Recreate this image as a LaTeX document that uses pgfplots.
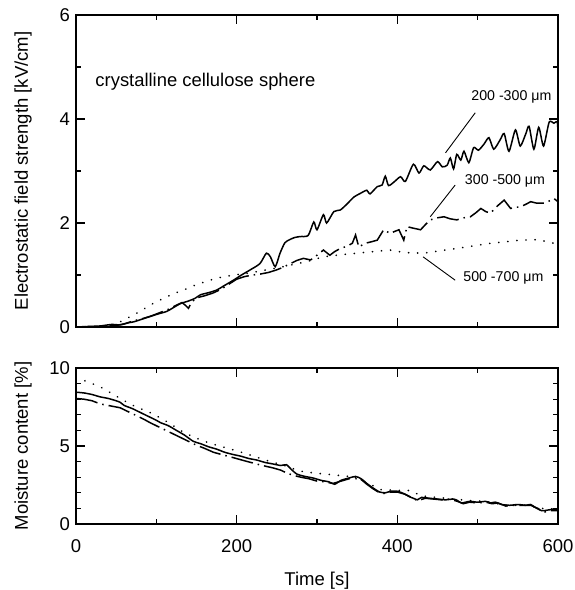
\documentclass[border=0pt]{standalone}
\usepackage{fontspec}
\setmainfont{Liberation Sans}
\usepackage{pgfplots}
\pgfplotsset{compat=1.18}
\pgfplotsset{
 common/.style={
  scale only axis, width=482pt, xmin=0, xmax=600,
  axis line style={line width=1.3pt},
  every tick/.style={line width=1.1pt, black},
  major tick length=9pt, minor tick length=5pt,
  tick align=inside,
  xtick={0,200,400,600}, minor xtick={100,300,500},
  tick label style={font=\fontsize{18.5}{22}\selectfont},
  /pgf/number format/assume math mode=true,
  every axis y label/.style={at={(axis description cs:-0.0913,0.5)}, rotate=90, anchor=south, inner sep=0pt, font=\fontsize{18.5}{22}\selectfont},
  every axis x label/.style={at={(axis description cs:0.5,0)}, anchor=base, yshift=-61pt, inner sep=0pt, font=\fontsize{18.5}{22}\selectfont},
  yticklabel style={xshift=-2.5pt},
 },
 sol/.style={black, line width=1.5pt, smooth, tension=0.4},
 dd/.style={black, line width=1.5pt, dash pattern=on 22pt off 5pt on 1.5pt off 5pt},
 dt/.style={black, line width=1.8pt, line cap=round, dash pattern=on 0.1pt off 9pt},
}
\begin{document}
\begin{tikzpicture}
\path[use as bounding box] (-76pt,-263pt) rectangle (499pt,327pt);
\begin{axis}[common, at={(0pt,0pt)}, anchor=south west, height=312pt,
  ymin=0, ymax=6, ytick={0,2,4,6}, minor ytick={1,3,5},
  xticklabels={},
  ylabel={Electrostatic field strength [kV/cm]}]
\addplot[sol] coordinates {(0,0) (15,0.01) (30,0.02) (45,0.05) (55,0.04) (65,0.08) (72,0.10) (82,0.15) (92,0.2) (102,0.25) (113,0.30) (122,0.38) (130,0.45) (140,0.5) (148,0.55) (155,0.62) (165,0.66) (175,0.71) (185,0.8) (196,0.9) (206,1.0) (217,1.1) (229,1.22) (237,1.42) (242,1.35) (248,1.16) (254,1.42) (260,1.62) (266,1.68) (272,1.72) (279,1.74) (289,1.76) (296,2.02) (300,1.87) (308,2.16) (312,2.0) (321,2.22) (329,2.25) (337,2.36) (346,2.5) (354,2.57) (362,2.63) (366,2.56) (375,2.7) (381,2.73) (385,2.9) (389,2.72) (396,2.79) (404,2.89) (410,2.8) (420,3.13) (427,2.96) (433,3.1) (441,3.02) (450,3.18) (456,3.08) (462,3.11) (466,3.25) (470,3.04) (474,3.32) (479,3.21) (483,3.38) (489,3.16) (495,3.45) (501,3.40) (508,3.52) (514,3.64) (520,3.42) (528,3.60) (533,3.72) (539,3.38) (547,3.79) (553,3.48) (560,3.72) (564,3.86) (570,3.42) (576,3.84) (582,3.48) (589,3.94) (595,3.92) (599,3.95) (600,3.75)};
\addplot[dd] coordinates {(0,0) (30,0.01) (50,0.03) (60,0.06) (72,0.12) (85,0.17) (95,0.22) (105,0.28) (115,0.34) (125,0.42) (132,0.47) (136,0.42) (140,0.36) (144,0.48) (150,0.56) (160,0.6) (170,0.65) (180,0.72) (190,0.82) (200,0.92) (210,0.97) (220,1.0) (230,1.02) (240,1.05) (250,1.1) (258,1.15) (267,1.22) (275,1.28) (283,1.32) (292,1.29) (300,1.38) (308,1.48) (316,1.38) (322,1.45) (329,1.51) (337,1.55) (344,1.61) (348,1.77) (352,1.54) (360,1.61) (368,1.64) (375,1.67) (383,1.87) (391,1.8) (397,1.84) (402,1.87) (408,1.67) (412,1.93) (420,1.9) (429,1.87) (435,1.97) (441,2.06) (450,2.1) (458,2.12) (466,2.08) (474,2.06) (483,2.1) (491,2.12) (498,2.2) (504,2.28) (510,2.22) (516,2.19) (524,2.32) (533,2.44) (541,2.28) (547,2.3) (553,2.31) (560,2.36) (566,2.41) (574,2.38) (583,2.38) (590,2.43) (595,2.47) (600,2.41)};
\addplot[dt] coordinates {(0,0) (30,0.01) (45,0.04) (55,0.10) (63,0.16) (71,0.23) (80,0.30) (92,0.42) (102,0.5) (113,0.58) (123,0.65) (134,0.71) (144,0.78) (155,0.84) (165,0.89) (175,0.94) (186,0.97) (196,1.0) (207,1.02) (217,1.04) (230,1.08) (245,1.12) (258,1.16) (267,1.19) (288,1.26) (308,1.35) (330,1.39) (350,1.42) (370,1.45) (391,1.48) (410,1.43) (433,1.42) (455,1.47) (474,1.51) (495,1.56) (516,1.61) (535,1.64) (553,1.67) (575,1.68) (595,1.61) (600,1.6)};
\node[anchor=base west, inner sep=0pt, font=\fontsize{18.4}{22}\selectfont] at (axis cs:24,4.62) {crystalline cellulose sphere};
\node[font=\fontsize{14.2}{17}\selectfont] at (axis cs:542,4.42) {200 -300 μm};
\draw[line width=0.9pt] (axis cs:497,4.12) -- (axis cs:460,3.35);
\node[font=\fontsize{14.2}{17}\selectfont] at (axis cs:534,2.80) {300 -500 μm};
\draw[line width=0.9pt] (axis cs:472,2.73) -- (axis cs:441,2.12);
\node[font=\fontsize{14.2}{17}\selectfont] at (axis cs:532,0.94) {500 -700 μm};
\draw[line width=0.9pt] (axis cs:472,0.90) -- (axis cs:432,1.35);
\end{axis}
\begin{axis}[common, at={(0pt,-41pt)}, anchor=north west, height=156pt,
  ymin=0, ymax=10, ytick={0,5,10}, minor ytick={1,2,3,4,6,7,8,9},
  xticklabel style={anchor=base, yshift=-28pt},
  xlabel={Time [s]}, ylabel={Moisture content [\%]}]
\addplot[sol] coordinates {(0,8.45) (10,8.4) (20,8.3) (30,8.15) (40,8.05) (50,7.9) (55,7.8) (60,7.6) (70,7.4) (80,7.15) (90,6.9) (100,6.65) (105,6.5) (115,6.3) (125,6.0) (135,5.7) (146,5.3) (155,5.15) (165,4.95) (175,4.8) (185,4.6) (196,4.45) (205,4.35) (215,4.2) (225,4.1) (235,3.95) (245,3.85) (255,3.75) (262,3.8) (268,3.5) (275,3.2) (285,3.05) (295,2.95) (305,2.8) (315,2.7) (322,2.55) (330,2.8) (340,2.95) (348,3.05) (355,2.9) (362,2.6) (370,2.3) (378,2.05) (385,2.0) (392,2.1) (400,2.1) (408,1.95) (415,1.75) (420,1.65) (425,1.55) (430,1.7) (440,1.65) (450,1.6) (460,1.55) (470,1.6) (475,1.5) (480,1.35) (490,1.45) (500,1.4) (510,1.45) (516,1.35) (522,1.4) (530,1.25) (540,1.2) (550,1.25) (560,1.2) (566,1.25) (572,1.05) (580,0.85) (588,0.9) (595,0.95) (600,0.9)};
\addplot[dd] coordinates {(0,8.05) (10,8.0) (20,7.9) (30,7.7) (45,7.55) (55,7.45) (65,7.2) (75,6.95) (85,6.7) (92,6.5) (100,6.3) (110,6.05) (120,5.8) (130,5.55) (140,5.3) (150,5.05) (160,4.85) (171,4.6) (185,4.4) (196,4.25) (210,4.05) (221,3.9) (232,3.75) (245,3.6) (255,3.45) (263,3.25) (272,3.1) (280,3.0) (290,2.9) (300,2.75) (310,2.7) (320,2.6) (330,2.75) (340,2.9) (348,3.0) (355,2.85) (362,2.55) (370,2.25) (378,2.0) (385,1.95) (392,2.05) (400,2.05) (410,1.9) (418,1.7) (425,1.5) (435,1.65) (445,1.6) (455,1.55) (465,1.6) (475,1.45) (482,1.3) (490,1.4) (500,1.35) (510,1.4) (518,1.3) (525,1.35) (535,1.15) (545,1.2) (555,1.2) (566,1.2) (575,1.0) (582,0.75) (590,0.85) (600,0.85)};
\addplot[dt] coordinates {(0,9.3) (10,9.2) (20,9.0) (30,8.8) (40,8.5) (50,8.2) (60,7.9) (71,7.6) (80,7.4) (90,7.2) (105,6.8) (115,6.5) (130,6.0) (145,5.6) (160,5.3) (175,5.05) (196,4.75) (215,4.45) (230,4.2) (245,3.95) (258,3.78) (270,3.55) (283,3.35) (300,3.25) (320,3.15) (340,3.05) (360,2.7) (380,2.2) (400,2.15) (416,2.15) (430,1.8) (450,1.7) (470,1.6) (490,1.5) (510,1.45) (535,1.2) (560,1.2) (580,1.0) (600,0.95)};
\end{axis}
\end{tikzpicture}
\end{document}
